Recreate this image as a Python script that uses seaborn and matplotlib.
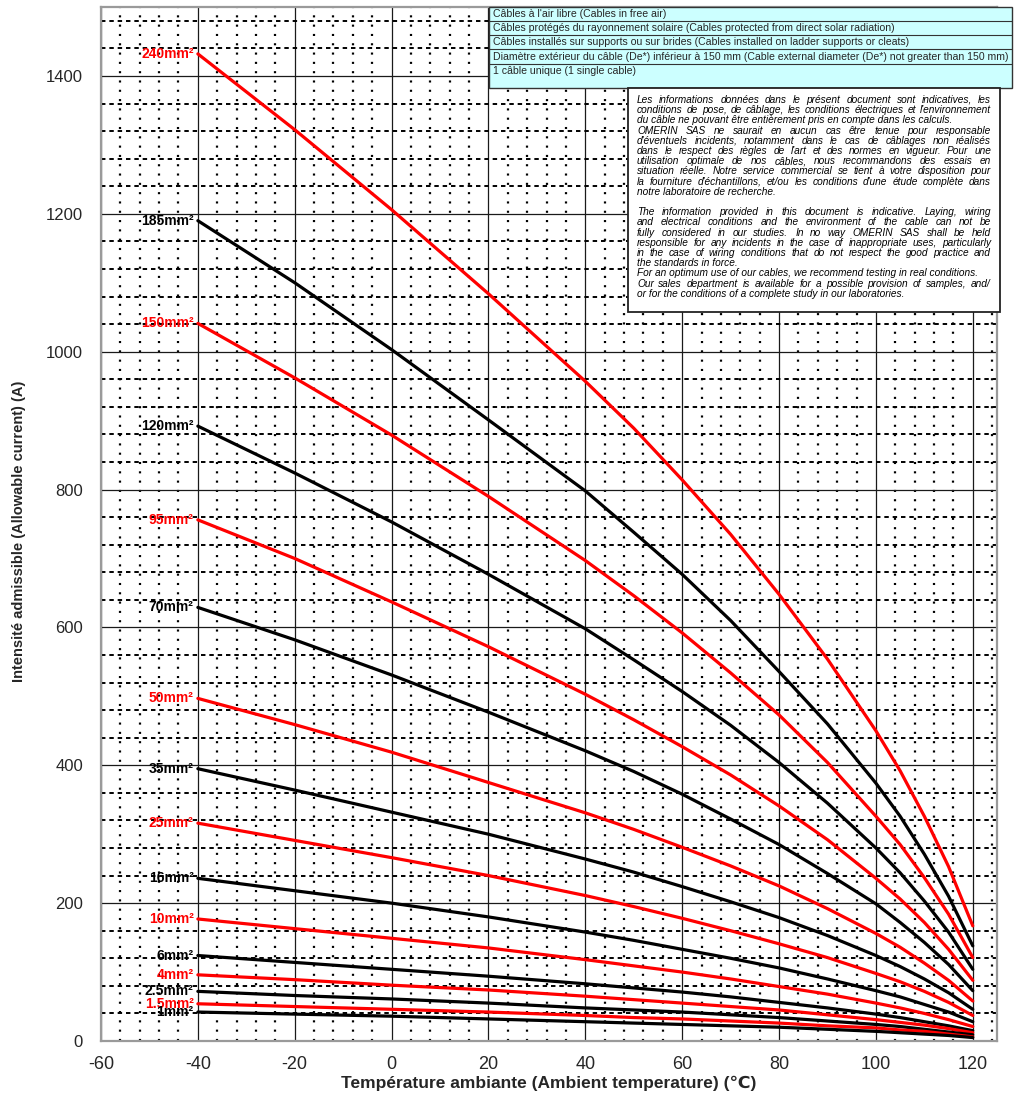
import matplotlib
matplotlib.use("Agg")
import matplotlib.pyplot as plt
from matplotlib.patches import Rectangle
from matplotlib.lines import Line2D
from matplotlib.ticker import MultipleLocator
import pandas as pd
import seaborn as sns

# Ambient temperatures at which ratings are given (°C)
temperatures = [-40, -20, 0, 20, 40, 50, 60, 70, 80, 90, 100, 105, 110, 115, 120]

# Allowable current (A) for each conductor cross-section
amps_240 = [1432, 1322, 1206, 1084, 957, 889, 814, 735, 648, 554, 450, 392, 326, 253, 167]
amps_185 = [1190, 1100, 1003, 901, 798, 738, 677, 610, 536, 460, 374, 326, 271, 210, 138]
amps_150 = [1041, 962, 879, 790, 697, 646, 592, 534, 473, 404, 326, 285, 237, 184, 121]
amps_120 = [892, 824, 753, 677, 598, 553, 507, 458, 404, 345, 280, 244, 203, 158, 104]
amps_95 = [756, 700, 637, 572, 503, 466, 427, 386, 341, 292, 236, 206, 172, 133, 88]
amps_70 = [629, 582, 531, 477, 421, 391, 358, 322, 285, 243, 199, 172, 143, 111, 73]
amps_50 = [497, 459, 419, 375, 331, 307, 281, 254, 225, 192, 156, 136, 113, 88, 58]
amps_35 = [395, 364, 332, 300, 264, 245, 224, 202, 179, 153, 124, 108, 90, 70, 46]
amps_25 = [316, 291, 266, 240, 211, 195, 178, 160, 141, 121, 98, 86, 72, 56, 37]
amps_16 = [236, 218, 200, 180, 158, 146, 133, 120, 106, 90, 73, 64, 53, 42, 28]
amps_10 = [177, 163, 149, 135, 118, 109, 100, 90, 79, 68, 55, 48, 40, 31, 21]
amps_6 = [124, 114, 104, 94, 83, 77, 71, 64, 56, 48, 39, 34, 28, 22, 15]
amps_4 = [96, 89, 81, 74, 65, 60, 55, 50, 45, 38, 31, 27, 23, 18, 12]
amps_2_5 = [72, 66, 61, 55, 48, 45, 42, 38, 34, 29, 24, 21, 17, 13, 9]
amps_1_5 = [54, 50, 46, 42, 37, 34, 32, 29, 26, 22, 19, 16, 14, 10, 6]
amps_1 = [42, 39, 36, 32, 28, 26, 24, 22, 20, 17, 14, 12, 10, 8, 5]

section_labels = ["240mm²", "185mm²", "150mm²", "120mm²", "95mm²", "70mm²",
                  "50mm²", "35mm²", "25mm²", "16mm²", "10mm²", "6mm²",
                  "4mm²", "2.5mm²", "1.5mm²", "1mm²"]
section_series = [amps_240, amps_185, amps_150, amps_120, amps_95, amps_70,
                  amps_50, amps_35, amps_25, amps_16, amps_10, amps_6,
                  amps_4, amps_2_5, amps_1_5, amps_1]
section_colors = ["#ff0000", "#000000"] * 8

x_ticks = [-60, -40, -20, 0, 20, 40, 60, 80, 100, 120]
x_tick_labels = ["-60", "-40", "-20", "0", "20", "40", "60", "80", "100", "120"]
y_ticks = [0, 200, 400, 600, 800, 1000, 1200, 1400]
y_tick_labels = ["0", "200", "400", "600", "800", "1000", "1200", "1400"]

conditions = [
    "Câbles à l'air libre (Cables in free air)",
    "Câbles protégés du rayonnement solaire (Cables protected from direct solar radiation)",
    "Câbles installés sur supports ou sur brides (Cables installed on ladder supports or cleats)",
    "Diamètre extérieur du câble (De*) inférieur à 150 mm (Cable external diameter (De*) not greater than 150 mm)",
    "1 câble unique (1 single cable)",
]

# (text, justified) ; None marks a paragraph gap
disclaimer = [
    ("Les informations données dans le présent document sont indicatives, les", True),
    ("conditions de pose, de câblage, les conditions électriques et l'environnement", True),
    ("du câble ne pouvant être entièrement pris en compte dans les calculs.", False),
    ("OMERIN SAS ne saurait en aucun cas être tenue pour responsable", True),
    ("d'éventuels incidents, notamment dans le cas de câblages non réalisés", True),
    ("dans le respect des règles de l'art et des normes en vigueur. Pour une", True),
    ("utilisation optimale de nos câbles, nous recommandons des essais en", True),
    ("situation réelle. Notre service commercial se tient à votre disposition pour", True),
    ("la fourniture d'échantillons, et/ou les conditions d'une étude complète dans", True),
    ("notre laboratoire de recherche.", False),
    None,
    ("The information provided in this document is indicative. Laying, wiring", True),
    ("and electrical conditions and the environment of the cable can not be", True),
    ("fully considered in our studies. In no way OMERIN SAS shall be held", True),
    ("responsible for any incidents in the case of inappropriate uses, particularly", True),
    ("in the case of wiring conditions that do not respect the good practice and", True),
    ("the standards in force.", False),
    ("For an optimum use of our cables, we recommend testing in real conditions.", False),
    ("Our sales department is available for a possible provision of samples, and/", True),
    ("or for the conditions of a complete study in our laboratories.", False),
]

sns.set_style("white")
plt.rcParams["font.family"] = ["Liberation Sans", "DejaVu Sans"]
plt.rcParams["lines.scale_dashes"] = False

W, H = 1014, 1094


def fx(x):
    return x / W


def fy(y):
    return 1 - y / H


fig = plt.figure(figsize=(W / 100, H / 100), dpi=100)
fig.patch.set_facecolor("white")
ax = fig.add_axes([fx(101), fy(1041), (997 - 101) / W, (1041 - 7) / H])

rows = []
for label, series in zip(section_labels, section_series):
    for t, a in zip(temperatures, series):
        rows.append({"temp": t, "amps": a, "section": label})
df = pd.DataFrame(rows)

sns.lineplot(data=df, x="temp", y="amps", hue="section", hue_order=section_labels,
             palette=dict(zip(section_labels, section_colors)), linewidth=2.3,
             estimator=None, sort=False, legend=False, ax=ax, zorder=3)

ax.set_xlim(-60, 125)
ax.set_ylim(0, 1500)
ax.set_xticks(x_ticks, x_tick_labels, fontsize=13)
ax.set_yticks(y_ticks, y_tick_labels, fontsize=12)
ax.xaxis.set_minor_locator(MultipleLocator(4))
ax.yaxis.set_minor_locator(MultipleLocator(40))
ax.set_xlabel("")
ax.set_ylabel("")

ax.grid(False)
ax.xaxis.grid(True, which="major", color="#1a1a1a", linewidth=0.9)
ax.yaxis.grid(True, which="major", color="#1a1a1a", linewidth=0.9)
ax.xaxis.grid(True, which="minor", color="black", linewidth=1.6, linestyle=(0, (1.5, 5.2)))
ax.yaxis.grid(True, which="minor", color="black", linewidth=1.4, linestyle=(0, (3.2, 2.8)))
ax.set_axisbelow(True)

for s in ax.spines.values():
    s.set_color("#9a9a9a")
    s.set_linewidth(1.6)

ax.tick_params(axis="x", which="major", length=4, color="#777777", direction="out", pad=7)
ax.tick_params(axis="y", which="major", length=0, pad=13)
ax.tick_params(which="minor", length=0)

for label, series, color in zip(section_labels, section_series, section_colors):
    ax.annotate(label, xy=(temperatures[0], series[0]), xytext=(-3, 0),
                textcoords="offset points", ha="right", va="center",
                color=color, fontsize=10, fontweight="bold", zorder=4)

fig.text(fx(549), fy(1083), "Température ambiante (Ambient temperature) (℃)",
         ha="center", va="center", fontsize=12.5, fontweight="bold")
fig.text(fx(19), fy(531), "Intensité admissible (Allowable current) (A)",
         ha="center", va="center", rotation=90, fontsize=10.5, fontweight="bold")

# Installation conditions table
box_top, box_bottom, box_left, box_right = 7, 88, 489, 1012
row_edges = [7, 21, 35, 49, 64]
fig.add_artist(Rectangle((fx(box_left), fy(box_bottom)), (box_right - box_left) / W,
                         (box_bottom - box_top) / H, transform=fig.transFigure,
                         facecolor="#ccffff", edgecolor="#333333", linewidth=1.0, zorder=5))
for yy in row_edges[1:]:
    fig.add_artist(Line2D([fx(box_left), fx(box_right)], [fy(yy), fy(yy)],
                          transform=fig.transFigure, color="#333333", linewidth=0.8, zorder=6))
for i, txt in enumerate(conditions):
    yc = (row_edges[i] + row_edges[i + 1]) / 2 if i < 4 else 71
    fig.text(fx(493), fy(yc), txt, ha="left", va="center", fontsize=7.6, zorder=7)

# Disclaimer panel
fig.add_artist(Rectangle((fx(628), fy(312)), (1000 - 628) / W, (312 - 88) / H,
                         transform=fig.transFigure, facecolor="white",
                         edgecolor="#222222", linewidth=1.3, zorder=5))

renderer = fig.canvas.get_renderer()
note_style = dict(fontsize=7.3, fontstyle="italic", ha="left", va="baseline",
                  color="black", zorder=7)
x0, x1 = 637, 991


def text_width(s):
    t = fig.text(0, 0, s, **note_style)
    w = t.get_window_extent(renderer).width
    t.remove()
    return w


baseline = 103
pitch = 10.2
for entry in disclaimer:
    if entry is None:
        baseline += 20.5 - pitch
        continue
    line, justify = entry
    if justify:
        words = line.split()
        widths = [text_width(w) for w in words]
        gap = (x1 - x0 - sum(widths)) / (len(words) - 1)
        xpos = x0
        for w, wd in zip(words, widths):
            fig.text(fx(xpos), fy(baseline), w, **note_style)
            xpos += wd + gap
    else:
        fig.text(fx(x0), fy(baseline), line, **note_style)
    baseline += pitch

fig.savefig("out.png", dpi=100)
